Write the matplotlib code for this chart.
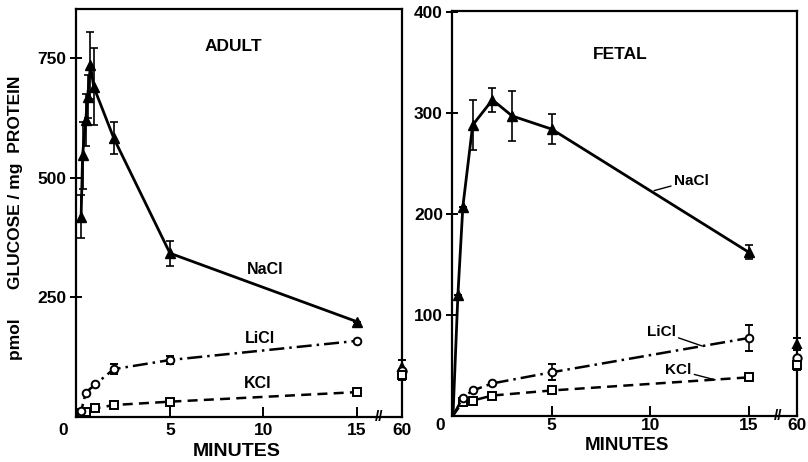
import matplotlib
matplotlib.use('Agg')
from matplotlib import pyplot as plt
from matplotlib.transforms import ScaledTranslation

plt.rcParams['font.family'] = ['Liberation Sans', 'DejaVu Sans']
plt.rcParams['font.weight'] = 'bold'

# ---- adult
adult_na_t = [0.25, 0.33, 0.5, 0.6, 0.75, 0.92, 2, 5, 15]
adult_na = [418, 547, 620, 669, 735, 690, 582, 342, 199]
adult_na_err = [45, 70, 55, 45, 70, 80, 33, 26, 0]
adult_t = [0, 0.25, 0.5, 1, 2, 5, 15]
adult_li = [0, 12, 51, 68, 100, 119, 159]
adult_li_err = [0, 0, 0, 0, 10, 8, 0]
adult_k = [0, 8, 11, 18, 25, 32, 52]
adult_60 = [105, 97, 88]        # NaCl, LiCl, KCl
adult_60_err = [14, 0, 11]

# ---- fetal
fetal_na_t = [0, 0.25, 0.5, 1, 2, 3, 5, 15]
fetal_na = [0, 120, 207, 288, 313, 297, 284, 162]
fetal_na_err = [0, 0, 0, 25, 12, 25, 15, 7]
fetal_t = [0, 0.5, 1, 2, 5, 15]
fetal_li = [0, 18, 25, 32, 43, 77]
fetal_li_err = [0, 0, 0, 0, 8, 13]
fetal_k = [0, 14, 15, 20, 25, 38]
fetal_60 = [71, 57, 50]
fetal_60_err = [6, 0, 5]

W, H = 808, 462
fig = plt.figure(figsize=(W / 100, H / 100), dpi=100)


def px_axes(x0, x1, y0, y1):
    # pixel box -> figure fraction
    return fig.add_axes([x0 / W, 1 - y1 / H, (x1 - x0) / W, (y1 - y0) / H])


def noclip(cont):
    for art in cont.get_children():
        art.set_clip_on(False)


def panel(ax, x60, na_t, na, na_err, t, li, li_err, k, v60, e60, na_origin, xpad):
    start = 1 if na_origin else 0
    ax.errorbar(na_t, na, yerr=na_err, color='black', lw=2.0, marker='^', ms=7,
                markevery=slice(start, None), capsize=3, elinewidth=1.2, capthick=1.2)
    ax.errorbar(t, li, yerr=li_err, color='black', lw=1.8, ls=(0, (6, 2, 1, 2)), marker='o', ms=5.5,
                mfc='white', mew=1.4, markevery=slice(1, None), capsize=3, elinewidth=1.2, capthick=1.2)
    ax.plot(t, k, color='black', lw=1.8, ls=(0, (4, 2.5)), marker='s', ms=5.5, mfc='white', mew=1.4,
            markevery=slice(1, None))
    # 60 min values at the right edge
    for v, e, m, fc in zip(v60, e60, ['^', 'o', 's'], ['black', 'white', 'white']):
        c = ax.errorbar([x60], [v], yerr=[e], color='black', marker=m, ms=6, mfc=fc, mew=1.4,
                        capsize=3, elinewidth=1.2, capthick=1.2, zorder=5)
        noclip(c)
    for s in ax.spines.values():
        s.set_linewidth(1.6)
    ax.tick_params(axis='y', direction='inout', length=9, width=1.4, labelsize=12.5, pad=2)
    ax.tick_params(axis='x', direction='in', length=7, width=1.4, labelsize=12.5, pad=xpad)
    ax.set_xticks([0, 5, 10, 15, x60], ['0', '5', '10', '15', '60'])
    lab0 = ax.get_xticklabels()[0]
    lab0.set_transform(lab0.get_transform() + ScaledTranslation(-0.13, 0, fig.dpi_scale_trans))
    ax.get_xticklines()[0].set_visible(False)
    ax.get_xticklines()[-2].set_visible(False)


# ---------- ADULT
ax1 = px_axes(75.5, 401.5, 9, 417)
ax1.set_xlim(-0.05, 17.38)
ax1.set_ylim(0, 852)
panel(ax1, 17.38, adult_na_t, adult_na, adult_na_err, adult_t, adult_li, adult_li_err, adult_k,
      adult_60, adult_60_err, False, 4)
ax1.set_yticks([250, 500, 750])
ax1.text(8.4, 773, 'ADULT', ha='center', va='center', fontsize=12.5, fontweight='bold')
ax1.text(10.1, 307, 'NaCl', ha='center', va='center', fontsize=11.5, fontweight='bold')
ax1.text(9.8, 163, 'LiCl', ha='center', va='center', fontsize=11.5, fontweight='bold')
ax1.text(9.7, 69, 'KCl', ha='center', va='center', fontsize=11.5, fontweight='bold')
ax1.text(16.2, 0, '//', ha='center', va='center', fontsize=11, fontweight='bold', clip_on=False)

# ---------- FETAL
ax2 = px_axes(452, 797, 11, 415.7)
ax2.set_xlim(-0.05, 17.45)
ax2.set_ylim(0, 401)
panel(ax2, 17.45, fetal_na_t, fetal_na, fetal_na_err, fetal_t, fetal_li, fetal_li_err, fetal_k,
      fetal_60, fetal_60_err, True, 2)
ax2.set_yticks([100, 200, 300, 400])
ax2.text(8.47, 358, 'FETAL', ha='center', va='center', fontsize=12.5, fontweight='bold')
ax2.annotate('NaCl', xy=(10.2, 223), xytext=(11.2, 233), ha='left', va='center', fontsize=11,
             fontweight='bold', arrowprops=dict(arrowstyle='-', lw=1.0, color='black', shrinkA=0, shrinkB=0))
ax2.annotate('LiCl', xy=(12.65, 69), xytext=(11.3, 83), ha='right', va='center', fontsize=11,
             fontweight='bold', arrowprops=dict(arrowstyle='-', lw=1.0, color='black', shrinkA=0, shrinkB=0))
ax2.annotate('KCl', xy=(13.3, 35.5), xytext=(12.1, 45), ha='right', va='center', fontsize=11,
             fontweight='bold', arrowprops=dict(arrowstyle='-', lw=1.0, color='black', shrinkA=0, shrinkB=0))
ax2.text(16.5, 0, '//', ha='center', va='center', fontsize=11, fontweight='bold', clip_on=False)

fig.text(237 / W, 1 - 452 / H, 'MINUTES', ha='center', va='center', fontsize=14, fontweight='bold')
fig.text(627 / W, 1 - 446 / H, 'MINUTES', ha='center', va='center', fontsize=13.5, fontweight='bold')
fig.text(16 / W, 1 - 218 / H, 'pmol      GLUCOSE / mg  PROTEIN', rotation=90, ha='center', va='center',
         fontsize=12.5, fontweight='bold')

fig.savefig('out.png', dpi=100)
